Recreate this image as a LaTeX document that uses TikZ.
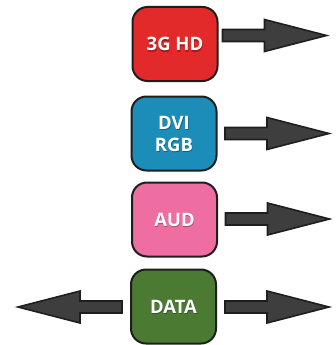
\documentclass[tikz,border=0pt]{standalone}
\usepackage{fontspec}
\setmainfont{Open Sans}
\usetikzlibrary{calc}
\definecolor{cred}{HTML}{E32A2A}
\definecolor{cblue}{HTML}{1C8DB8}
\definecolor{cpink}{HTML}{EE6EA2}
\definecolor{cgreen}{HTML}{4B7B33}
\definecolor{arrowfill}{HTML}{3E3E3E}
\definecolor{edge}{HTML}{1E1E1E}
\tikzset{
  sigbox/.style={draw=edge, line width=2pt, rounded corners=15pt,
    minimum width=85pt, minimum height=74pt, inner sep=0pt,
    text=white, align=center, font=\bfseries\fontsize{18.5}{22}\selectfont},
  shadowtext/.style={text=black, opacity=0.3, align=center,
    font=\bfseries\fontsize{18.5}{22}\selectfont},
  blockarrow/.style={draw=edge, fill=arrowfill, line width=1.6pt, line join=miter},
}
\newcommand{\blkarrow}[2]{%
  \draw[blockarrow, shift={(#1)}, xscale=#2]
    (0,-6) -- (42,-6) -- (42,-16) -- (104,0) -- (42,16) -- (42,6) -- (0,6) -- cycle;}
\begin{document}
\begin{tikzpicture}[x=1pt, y=-1pt]
\useasboundingbox (0,0) rectangle (336,345);
\node[sigbox, fill=cred] (hd) at (175,44) {};
\node[sigbox, fill=cblue] (dvi) at (174,133.5) {};
\node[sigbox, fill=cpink] (aud) at (174.5,219.5) {};
\node[sigbox, fill=cgreen] (data) at (173.5,306.5) {};
\foreach \n/\t in {hd/3G HD, dvi/DVI\\RGB, aud/AUD, data/DATA}{
  \node[shadowtext] at ($(\n.center)+(0.6,1.5)$) {\t};
  \node[sigbox, draw=none, fill=none] (\n-t) at (\n.center) {\t};
}
\coordinate (a1) at (222.5,35.5);
\coordinate (a2) at (225,133.5);
\coordinate (a3) at (225.5,219);
\coordinate (a4) at (225,307);
\coordinate (a5) at (122,307);
\blkarrow{a1}{1}
\blkarrow{a2}{1}
\blkarrow{a3}{1}
\blkarrow{a4}{1}
\blkarrow{a5}{-1}
\end{tikzpicture}
\end{document}
